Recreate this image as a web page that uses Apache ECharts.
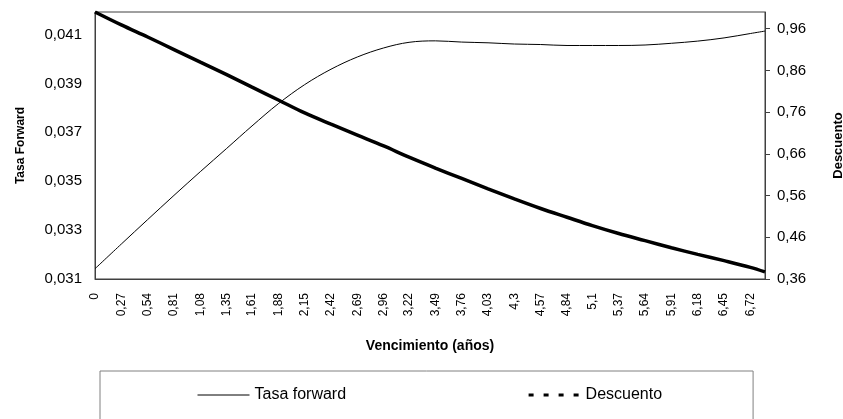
<!DOCTYPE html>
<html>
<head>
<meta charset="utf-8">
<script src="https://cdn.jsdelivr.net/npm/echarts@6/dist/echarts.min.js"></script>
<style>
  html, body { margin: 0; padding: 0; background: #fff; }
  #chart { width: 843px; height: 419px; }
</style>
</head>
<body>
<div id="chart"></div>
<script>
const xYears = [0, 0.27, 0.54, 0.81, 1.08, 1.35, 1.61, 1.88, 2.15, 2.42, 2.69, 2.96, 3.22,
  3.49, 3.76, 4.03, 4.3, 4.57, 4.84, 5.1, 5.37, 5.64, 5.91, 6.18, 6.45, 6.72, 6.87]

const tasaForward = [0.03142, 0.03243, 0.03343, 0.03442, 0.03539, 0.03634, 0.03726, 0.03817,
  0.03895, 0.03958, 0.04008, 0.04045, 0.04068, 0.04074, 0.04069, 0.04066, 0.04061, 0.04059,
  0.04055, 0.04055, 0.04055, 0.04057, 0.04064, 0.04073, 0.04086, 0.04104, 0.04114]

const descuento = [1.000, 0.969, 0.940, 0.910, 0.880, 0.850, 0.820, 0.789, 0.758, 0.731,
  0.705, 0.679, 0.652, 0.626, 0.601, 0.576, 0.552, 0.529, 0.508, 0.488, 0.469, 0.452,
  0.435, 0.419, 0.404, 0.388, 0.377]

// etiquetas de los ejes
const xTicks = [0, 0.27, 0.54, 0.81, 1.08, 1.35, 1.61, 1.88, 2.15, 2.42, 2.69, 2.96, 3.22,
  3.49, 3.76, 4.03, 4.3, 4.57, 4.84, 5.1, 5.37, 5.64, 5.91, 6.18, 6.45, 6.72]
const leftTicks = [0.031, 0.033, 0.035, 0.037, 0.039, 0.041]
const rightTicks = [0.36, 0.46, 0.56, 0.66, 0.76, 0.86, 0.96]

const FONT = "'Liberation Sans', Arial, sans-serif"
const comma = v => String(v).replace('.', ',')

const chart = echarts.init(document.getElementById('chart'))

const option = {
  animation: false,
  textStyle: { fontFamily: FONT, color: '#000' },
  grid: {
    left: 95,
    right: 78,
    top: 12,
    bottom: 140,
    outerBoundsMode: 'none',
    show: true,
    borderColor: '#404040',
    borderWidth: 1
  },
  legend: {
    orient: 'horizontal',
    left: 100,
    top: 371,
    padding: [16, 91, 40, 97],
    itemGap: 181,
    itemWidth: 52,
    itemHeight: 14,
    borderColor: '#808080',
    borderWidth: 1,
    textStyle: { fontFamily: FONT, fontSize: 16, color: '#000' },
    data: [
      { name: 'Tasa forward', itemStyle: { opacity: 0 }, lineStyle: { width: 1, color: '#000' } },
      { name: 'Descuento', itemStyle: { opacity: 0 }, lineStyle: { width: 3, type: [5, 10], color: '#000' } }
    ]
  },
  xAxis: {
    type: 'value',
    min: 0,
    max: 6.87,
    name: 'Vencimiento (años)',
    nameLocation: 'middle',
    nameGap: 60,
    nameTextStyle: { fontFamily: FONT, fontSize: 14, fontWeight: 'bold', color: '#000' },
    axisLine: { lineStyle: { color: '#404040', width: 1 } },
    axisTick: { show: false },
    splitLine: { show: false },
    axisLabel: {
      customValues: xTicks,
      rotate: 90,
      margin: 14,
      fontSize: 12,
      color: '#000',
      formatter: v => comma(v)
    }
  },
  yAxis: [
    {
      type: 'value',
      position: 'left',
      min: 0.031,
      max: 0.04192,
      name: 'Tasa Forward',
      nameLocation: 'middle',
      nameRotate: 90,
      nameGap: 68,
      nameTextStyle: { fontFamily: FONT, fontSize: 12, fontWeight: 'bold', color: '#000' },
      axisLine: { show: true, lineStyle: { color: '#404040', width: 1 } },
      axisTick: { show: false },
      splitLine: { show: false },
      axisLabel: {
        customValues: leftTicks,
        margin: 13,
        fontSize: 15,
        color: '#000',
        formatter: v => v.toFixed(3).replace('.', ',')
      }
    },
    {
      type: 'value',
      position: 'right',
      min: 0.36,
      max: 1.0,
      name: 'Descuento',
      nameLocation: 'middle',
      nameRotate: 90,
      nameGap: 67,
      nameTextStyle: { fontFamily: FONT, fontSize: 13, fontWeight: 'bold', color: '#000' },
      axisLine: { show: true, lineStyle: { color: '#404040', width: 1 } },
      axisTick: { show: true, customValues: rightTicks, length: 5, lineStyle: { color: '#404040' } },
      splitLine: { show: false },
      axisLabel: {
        customValues: rightTicks,
        margin: 12,
        fontSize: 15,
        color: '#000',
        formatter: v => v.toFixed(2).replace('.', ',')
      }
    }
  ],
  series: [
    {
      name: 'Tasa forward',
      type: 'line',
      yAxisIndex: 0,
      symbol: 'none',
      smooth: 0.35,
      lineStyle: { color: '#000', width: 1 },
      itemStyle: { color: '#000' },
      data: xYears.map((x, i) => [x, tasaForward[i]])
    },
    {
      name: 'Descuento',
      type: 'line',
      yAxisIndex: 1,
      symbol: 'none',
      smooth: 0.35,
      lineStyle: { color: '#000', width: 3.5 },
      itemStyle: { color: '#000' },
      data: xYears.map((x, i) => [x, descuento[i]])
    }
  ]
}

chart.setOption(option)
</script>
</body>
</html>
